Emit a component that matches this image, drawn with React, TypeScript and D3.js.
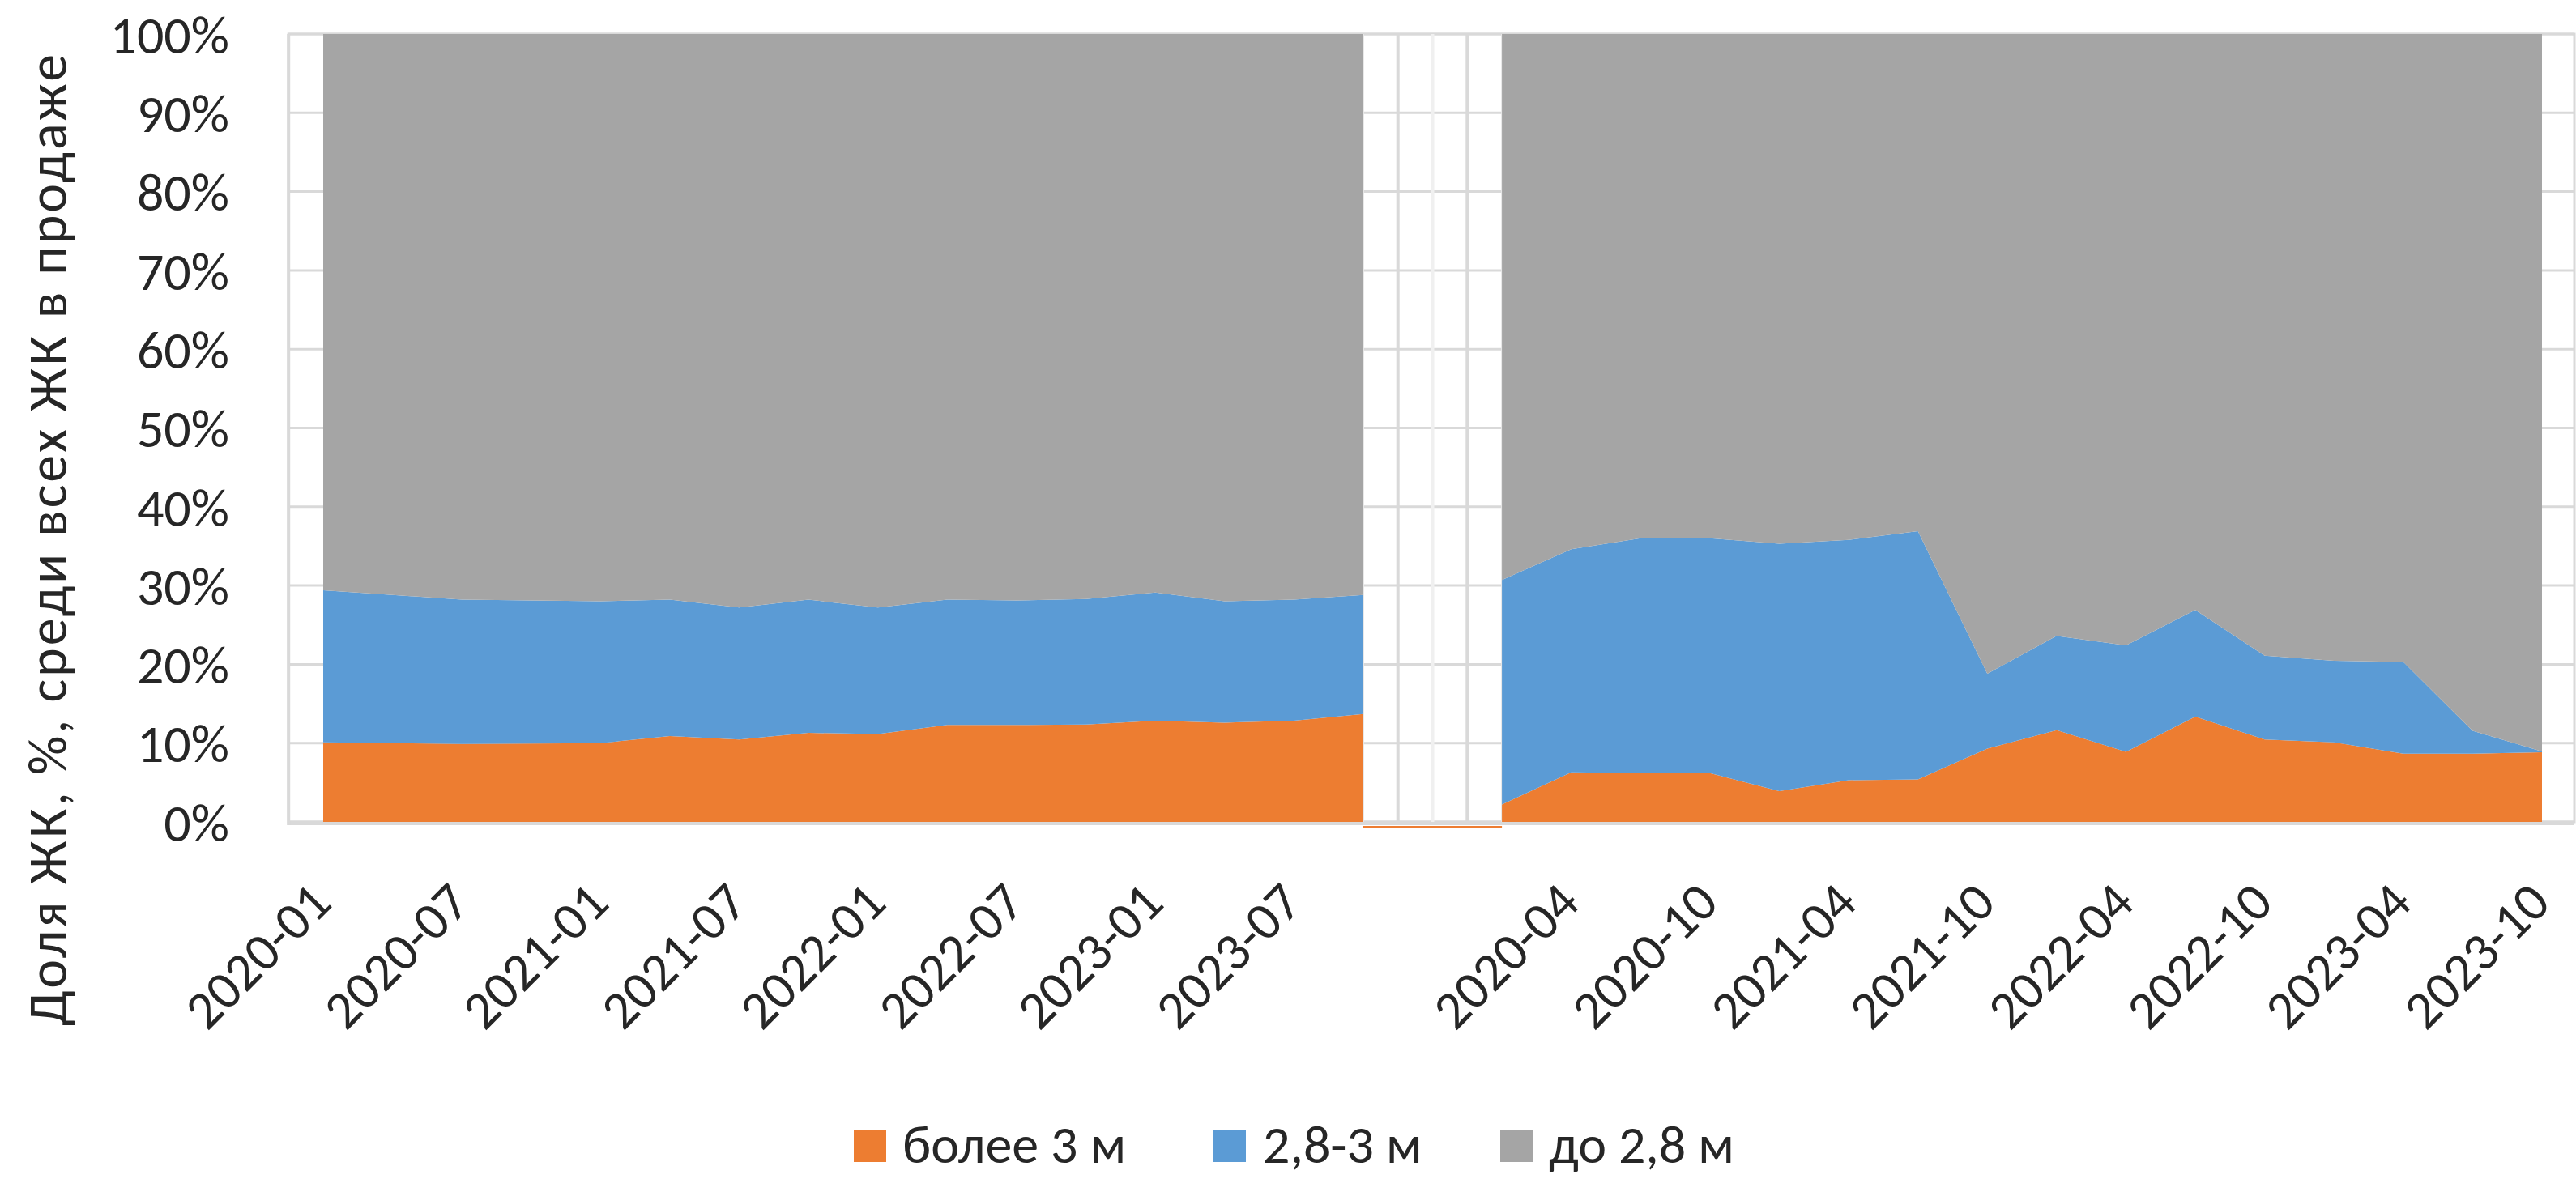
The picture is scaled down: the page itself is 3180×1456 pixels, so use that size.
import React from "react";
import * as d3 from "d3";

// quarterly categories (both panels share the same dates)
const dates = [
  "2020-01", "2020-04", "2020-07", "2020-10",
  "2021-01", "2021-04", "2021-07", "2021-10",
  "2022-01", "2022-04", "2022-07", "2022-10",
  "2023-01", "2023-04", "2023-07", "2023-10",
];

// left panel (%)
const leftOver3 = [10.1, 10.0, 9.9, 9.95, 10.0, 10.9, 10.45, 11.3, 11.15, 12.3, 12.3, 12.35, 12.85, 12.6, 12.85, 13.7];
const left28to3 = [19.3, 18.8, 18.3, 18.15, 18.0, 17.3, 16.75, 16.9, 16.05, 15.9, 15.8, 15.95, 16.25, 15.4, 15.35, 15.1];

// right panel (%)
const rightOver3 = [2.2, 6.3, 6.2, 6.2, 3.9, 5.3, 5.4, 9.3, 11.65, 8.9, 13.35, 10.45, 10.1, 8.65, 8.65, 8.85];
const right28to3 = [28.5, 28.3, 29.8, 29.8, 31.4, 30.5, 31.5, 9.5, 11.95, 13.5, 13.55, 10.65, 10.35, 11.65, 2.9, 0.1];

const leftTickLabels = ["2020-01", "2020-07", "2021-01", "2021-07", "2022-01", "2022-07", "2023-01", "2023-07"];
const rightTickLabels = ["2020-04", "2020-10", "2021-04", "2021-10", "2022-04", "2022-10", "2023-04", "2023-10"];
const yTicks = [0, 10, 20, 30, 40, 50, 60, 70, 80, 90, 100];

const seriesNames = ["более 3 м", "2,8-3 м", "до 2,8 м"];
const seriesKeys = ["over3", "mid", "under"];
const colors = ["#ED7D31", "#5B9BD5", "#A5A5A5"];

const yTitle = "Доля ЖК, %, среди всех ЖК в продаже";

const GAP = 51; // index offset of the right panel (6 empty months after the left panel)
const monthIndex = (s: string) => {
  const [y, m] = s.split("-").map(Number);
  return (y - 2020) * 12 + (m - 1);
};

const FONT = "Calibri, Carlito, Lato, 'Open Sans', sans-serif";
const TEXT = "#262626";
const GRID = "#D9D9D9";

export default function App() {
  const W = 3180, H = 1456;
  const x = d3.scaleLinear().domain([0, 96]).range([399, 3138]);
  const y = d3.scaleLinear().domain([0, 100]).range([1015, 42]);
  const plotL = x(-1.5), plotR = 3178, plotT = y(100), plotB = y(0);

  const mkRows = (o: number[], m: number[], off: number) =>
    dates.map((d, i) => ({
      idx: monthIndex(d) + off,
      over3: o[i],
      mid: m[i],
      under: 100 - o[i] - m[i],
    }));
  const leftRows = mkRows(leftOver3, left28to3, 0);
  const rightRows = mkRows(rightOver3, right28to3, GAP);

  const stack = d3.stack<any>().keys(seriesKeys);
  const area = d3
    .area<any>()
    .x((d) => x(d.data.idx))
    .y0((d) => y(d[0]))
    .y1((d) => y(d[1]));

  const leftStack = stack(leftRows);
  const rightStack = stack(rightRows);

  const gapL = x(45), gapR = x(GAP);
  const gapLines = [1, 2, 3].map((k) => gapL + (k * (gapR - gapL)) / 4);

  const xTicks = [
    ...leftTickLabels.map((l) => ({ l, idx: monthIndex(l) })),
    ...rightTickLabels.map((l) => ({ l, idx: monthIndex(l) + GAP })),
  ];

  const legendItems = [
    { sq: 1054, tx: 1114 },
    { sq: 1498, tx: 1559 },
    { sq: 1852, tx: 1912 },
  ];

  return (
    <svg
      width={W}
      height={H}
      style={{ position: "absolute", left: 0, top: 0, background: "#fff" }}
      fontFamily={FONT}
    >
      <rect x={0} y={0} width={W} height={H} fill="#fff" />
      {/* gridlines */}
      {yTicks.map((t) => (
        <line key={"g" + t} x1={plotL} x2={plotR} y1={y(t)} y2={y(t)} stroke={GRID} strokeWidth={3} />
      ))}
      {/* plot border */}
      <rect x={plotL} y={plotT} width={plotR - plotL} height={plotB - plotT} fill="none" stroke={GRID} strokeWidth={3} />
      {/* gap decorations */}
      <line x1={gapL} x2={gapL} y1={plotT} y2={plotB} stroke="#E6E6E6" strokeWidth={2} />
      <line x1={gapR} x2={gapR} y1={plotT} y2={plotB} stroke="#E6E6E6" strokeWidth={2} />
      {gapLines.map((gx, i) => (
        <line key={"gl" + i} x1={gx} x2={gx} y1={plotT} y2={plotB} stroke={i === 1 ? "#F0F0F0" : GRID} strokeWidth={4} />
      ))}
      {/* areas */}
      {leftStack.map((s, i) => (
        <path key={"l" + i} d={area(s) || ""} fill={colors[i]} />
      ))}
      {rightStack.map((s, i) => (
        <path key={"r" + i} d={area(s) || ""} fill={colors[i]} />
      ))}
      {/* bottom axis */}
      <line x1={plotL} x2={plotR} y1={plotB + 2} y2={plotB + 2} stroke={GRID} strokeWidth={4} />
      <line x1={gapL} x2={gapR} y1={plotB + 6} y2={plotB + 6} stroke={colors[0]} strokeWidth={2} />
      <line x1={plotL} x2={plotL} y1={plotT} y2={plotB + 4} stroke={GRID} strokeWidth={4} />

      {/* y tick labels */}
      {yTicks.map((t) => (
        <text key={"yt" + t} x={283} y={y(t)} dy="0.36em" textAnchor="end" fontSize={66} fill={TEXT}>
          {t + "%"}
        </text>
      ))}
      {/* y title */}
      <text
        transform={`translate(82,667) rotate(-90)`}
        textAnchor="middle"
        fontSize={68}
        fill={TEXT}
        textLength={1200}
        lengthAdjust="spacing"
      >
        {yTitle}
      </text>
      {/* x tick labels */}
      {xTicks.map((t) => (
        <text
          key={"xt" + t.l + t.idx}
          transform={`translate(${x(t.idx) + 13},1118) rotate(-45)`}
          textAnchor="end"
          fontSize={66}
          fill={TEXT}
        >
          {t.l}
        </text>
      ))}
      {/* legend */}
      {legendItems.map((li, i) => (
        <g key={"lg" + i}>
          <rect x={li.sq} y={1395} width={40} height={40} fill={colors[i]} />
          <text x={li.tx} y={1436} fontSize={66} fill={TEXT}>
            {seriesNames[i]}
          </text>
        </g>
      ))}
    </svg>
  );
}
